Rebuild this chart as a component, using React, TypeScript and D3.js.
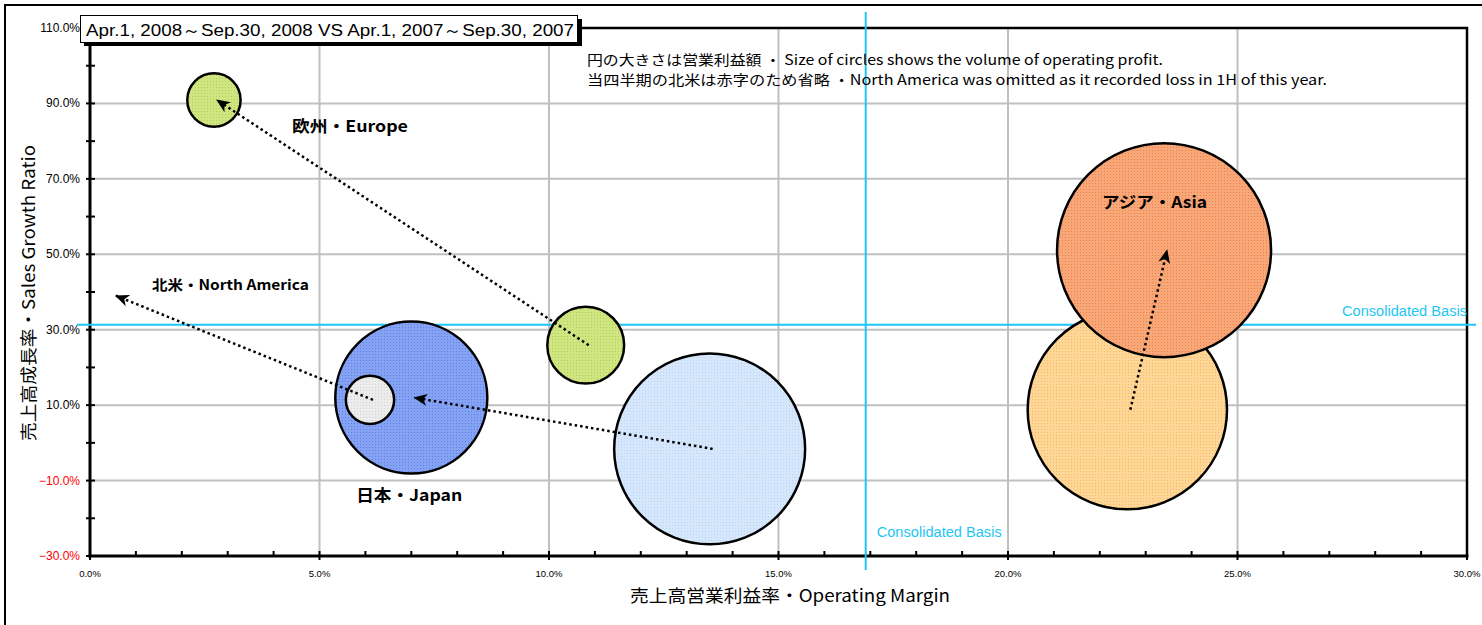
"use client"
import React, { useEffect, useRef } from "react";

//third-party
import * as d3 from "d3";

// Data (operating margin %, sales growth %, operating profit used for bubble size)
const regions = ["日本・Japan", "北米・North America", "欧州・Europe", "アジア・Asia"];
const margin2007 = [13.5, 6.1, 10.8, 22.6];
const growth2007 = [-1.6, 11.4, 25.9, 8.8];
const profit2007 = [500, 32, 81, 545];
const margin2008 = [7.0, 0.5, 2.7, 23.4];
const growth2008 = [12.0, 39.0, 90.9, 51.1];
const profit2008: (number | null)[] = [317, null, 39, 628];

const consolidatedMargin = 16.9;
const consolidatedGrowth = 31.3;

const yMajorTicks = [-30, -10, 10, 30, 50, 70, 90, 110];
const yMinorTicks = [-20, 0, 20, 40, 60, 80, 100];
const xMajorTicks = [0, 5, 10, 15, 20, 25, 30];

// label anchors (data units)
const labelMargin = [5.8, 1.35, 4.4, 22.05];
const labelGrowth = [-15.4, 40.5, 82.4, 62.3];

const titleText = "Apr.1, 2008～Sep.30, 2008 VS Apr.1, 2007～Sep.30, 2007";
const noteLines = [
  "円の大きさは営業利益額 ・ Size of circles shows the volume of operating profit.",
  "当四半期の北米は赤字のため省略 ・North America was omitted as it recorded loss in 1H of this year.",
];

// dithered fills: [base, dot]
const fill2007 = [
  ["#d6e6fb", "#b8d4f8"],
  ["#ececec", "#d4d4d4"],
  ["#d0e682", "#b4d050"],
  ["#fdd698", "#f8bc60"],
];
const fill2008 = [
  ["#86a2f2", "#5c80ec"],
  ["#ececec", "#d4d4d4"],
  ["#d0e682", "#b4d050"],
  ["#f8a878", "#f08048"],
];

const JP = "'Noto Sans CJK JP', 'Noto Sans', sans-serif";
const NARROW = "'Liberation Sans Narrow', 'Liberation Sans', Arial, sans-serif";

const App = () => {
  const ref = useRef<SVGSVGElement | null>(null);
  const width = 1482;
  const height = 625;

  useEffect(() => {
    const svg = d3.select(ref.current);
    svg.selectAll("*").remove();

    const left = 90, right = 1467, top = 28, bottom = 556;
    const x = d3.scaleLinear().domain([0, 30]).range([left, right]);
    const y = d3.scaleLinear().domain([-30, 110]).range([bottom, top]);
    const r = d3.scaleSqrt().domain([0, 628]).range([0, 107]);

    const defs = svg.append("defs");
    const makePattern = (id: string, c: string[]) => {
      const p = defs
        .append("pattern")
        .attr("id", id)
        .attr("width", 3)
        .attr("height", 3)
        .attr("patternUnits", "userSpaceOnUse");
      p.append("rect").attr("width", 3).attr("height", 3).attr("fill", c[0]);
      p.append("rect")
        .attr("width", 1)
        .attr("height", 1)
        .attr("fill", c[1])
        .attr("shape-rendering", "crispEdges");
    };
    fill2007.forEach((c, i) => makePattern(`p07-${i}`, c));
    fill2008.forEach((c, i) => makePattern(`p08-${i}`, c));

    defs
      .append("marker")
      .attr("id", "arrowHead")
      .attr("markerUnits", "userSpaceOnUse")
      .attr("markerWidth", 16)
      .attr("markerHeight", 12)
      .attr("refX", 13)
      .attr("refY", 6)
      .attr("orient", "auto")
      .append("path")
      .attr("d", "M0,0 L14,6 L0,12 L4,6 Z")
      .attr("fill", "#000");

    // white background + outer chart border
    svg.append("rect").attr("width", width).attr("height", height).attr("fill", "#fff");
    svg
      .append("rect")
      .attr("x", 5)
      .attr("y", 5)
      .attr("width", width + 20)
      .attr("height", height + 20)
      .attr("fill", "none")
      .attr("stroke", "#000")
      .attr("stroke-width", 2);

    // gridlines
    svg
      .append("g")
      .selectAll("line")
      .data(yMajorTicks.filter((d) => d > -30 && d < 110))
      .enter()
      .append("line")
      .attr("x1", left)
      .attr("x2", right)
      .attr("y1", (d) => y(d))
      .attr("y2", (d) => y(d))
      .attr("stroke", "#c0c0c0")
      .attr("stroke-width", 2);
    svg
      .append("g")
      .selectAll("line")
      .data(xMajorTicks.filter((d) => d > 0 && d < 30))
      .enter()
      .append("line")
      .attr("x1", (d) => x(d))
      .attr("x2", (d) => x(d))
      .attr("y1", top)
      .attr("y2", bottom)
      .attr("stroke", "#c0c0c0")
      .attr("stroke-width", 2);

    // plot border (top / right)
    svg
      .append("path")
      .attr("d", `M${left},${top} L${right},${top} L${right},${bottom}`)
      .attr("fill", "none")
      .attr("stroke", "#000")
      .attr("stroke-width", 2.5);

    // axes
    svg
      .append("line")
      .attr("x1", left)
      .attr("x2", left)
      .attr("y1", top)
      .attr("y2", bottom + 1.5)
      .attr("stroke", "#000")
      .attr("stroke-width", 3);
    svg
      .append("line")
      .attr("x1", left - 1.5)
      .attr("x2", right + 1.5)
      .attr("y1", bottom)
      .attr("y2", bottom)
      .attr("stroke", "#000")
      .attr("stroke-width", 3);

    // y ticks
    svg
      .append("g")
      .selectAll("line")
      .data([...yMajorTicks, ...yMinorTicks])
      .enter()
      .append("line")
      .attr("x1", left - 4)
      .attr("x2", left + 5)
      .attr("y1", (d) => y(d))
      .attr("y2", (d) => y(d))
      .attr("stroke", "#000")
      .attr("stroke-width", 2);
    // x ticks (major every 5, minor every 1)
    svg
      .append("g")
      .selectAll("line")
      .data(d3.range(0, 31, 1))
      .enter()
      .append("line")
      .attr("x1", (d) => x(d))
      .attr("x2", (d) => x(d))
      .attr("y1", bottom - 5)
      .attr("y2", (d) => (d % 5 === 0 ? bottom + 4 : bottom))
      .attr("stroke", "#000")
      .attr("stroke-width", 2);

    // y tick labels
    svg
      .append("g")
      .selectAll("text")
      .data(yMajorTicks)
      .enter()
      .append("text")
      .attr("x", left - 10)
      .attr("y", (d) => y(d) + 4)
      .attr("text-anchor", "end")
      .attr("font-family", NARROW)
      .attr("font-size", 12)
      .attr("fill", (d) => (d < 0 ? "#ff0000" : "#000"))
      .text((d) => `${d < 0 ? "−" : ""}${Math.abs(d).toFixed(1)}%`);

    // x tick labels
    svg
      .append("g")
      .selectAll("text")
      .data(xMajorTicks)
      .enter()
      .append("text")
      .attr("x", (d) => x(d))
      .attr("y", bottom + 21)
      .attr("text-anchor", "middle")
      .attr("font-family", NARROW)
      .attr("font-size", 9.5)
      .attr("fill", "#000")
      .text((d) => `${d.toFixed(1)}%`);

    // axis titles
    svg
      .append("text")
      .attr("x", 790)
      .attr("y", 602)
      .attr("text-anchor", "middle")
      .attr("font-family", JP)
      .attr("font-size", 17)
      .attr("textLength", 320)
      .attr("lengthAdjust", "spacingAndGlyphs")
      .text("売上高営業利益率・Operating Margin");
    svg
      .append("text")
      .attr("transform", "rotate(-90)")
      .attr("x", -293)
      .attr("y", 35)
      .attr("text-anchor", "middle")
      .attr("font-family", JP)
      .attr("font-size", 17)
      .attr("textLength", 296)
      .attr("lengthAdjust", "spacingAndGlyphs")
      .text("売上高成長率・Sales Growth Ratio");

    // consolidated basis lines
    const cyan = "#1ec6f2";
    svg
      .append("line")
      .attr("x1", x(consolidatedMargin))
      .attr("x2", x(consolidatedMargin))
      .attr("y1", 12)
      .attr("y2", bottom + 14)
      .attr("stroke", cyan)
      .attr("stroke-width", 2);
    svg
      .append("line")
      .attr("x1", left - 13)
      .attr("x2", right + 9)
      .attr("y1", y(consolidatedGrowth))
      .attr("y2", y(consolidatedGrowth))
      .attr("stroke", cyan)
      .attr("stroke-width", 2);
    svg
      .append("text")
      .attr("x", 1342)
      .attr("y", y(consolidatedGrowth) - 9)
      .attr("font-family", NARROW)
      .attr("font-size", 14)
      .attr("fill", cyan)
      .attr("textLength", 125)
      .attr("lengthAdjust", "spacingAndGlyphs")
      .text("Consolidated  Basis");
    svg
      .append("text")
      .attr("x", x(consolidatedMargin) + 11)
      .attr("y", 537)
      .attr("font-family", NARROW)
      .attr("font-size", 14)
      .attr("fill", cyan)
      .attr("textLength", 125)
      .attr("lengthAdjust", "spacingAndGlyphs")
      .text("Consolidated  Basis");

    // bubbles: each region 2007 then 2008
    const bubbles = svg.append("g");
    regions.forEach((_, i) => {
      bubbles
        .append("circle")
        .attr("cx", x(margin2007[i]))
        .attr("cy", y(growth2007[i]))
        .attr("r", r(profit2007[i]))
        .attr("fill", `url(#p07-${i})`)
        .attr("stroke", "#000")
        .attr("stroke-width", 2.5);
      const p = profit2008[i];
      if (p !== null) {
        bubbles
          .append("circle")
          .attr("cx", x(margin2008[i]))
          .attr("cy", y(growth2008[i]))
          .attr("r", r(p))
          .attr("fill", `url(#p08-${i})`)
          .attr("stroke", "#000")
          .attr("stroke-width", 2.5);
      }
    });

    // movement arrows 2007 -> 2008
    svg
      .append("g")
      .selectAll("line")
      .data(regions.map((_, i) => i))
      .enter()
      .append("line")
      .attr("x1", (i) => x(margin2007[i]) + 3)
      .attr("y1", (i) => y(growth2007[i]))
      .attr("x2", (i) => x(margin2008[i]) + 3)
      .attr("y2", (i) => y(growth2008[i]))
      .attr("stroke", "#000")
      .attr("stroke-width", 2.5)
      .attr("stroke-dasharray", "2.5 3")
      .attr("marker-end", "url(#arrowHead)");

    // region labels
    svg
      .append("g")
      .selectAll("text")
      .data(regions.map((_, i) => i))
      .enter()
      .append("text")
      .attr("x", (i) => x(labelMargin[i]))
      .attr("y", (i) => y(labelGrowth[i]))
      .attr("font-family", JP)
      .attr("font-weight", "bold")
      .attr("font-size", (i) => (i === 1 ? 14 : 16))
      .attr("textLength", (i) => [106, 157, 116, 105][i])
      .attr("lengthAdjust", "spacingAndGlyphs")
      .attr("fill", "#000")
      .text((i) => regions[i]);

    // note text
    noteLines.forEach((t, i) => {
      svg
        .append("text")
        .attr("x", 587)
        .attr("y", 65 + i * 20)
        .attr("font-family", JP)
        .attr("font-size", 14)
        .attr("textLength", i === 0 ? 576 : 740)
        .attr("lengthAdjust", "spacingAndGlyphs")
        .attr("fill", "#000")
        .text(t);
    });

    // title box with shadow
    svg
      .append("rect")
      .attr("x", 84)
      .attr("y", 19)
      .attr("width", 498)
      .attr("height", 27)
      .attr("fill", "#000");
    svg
      .append("rect")
      .attr("x", 80.5)
      .attr("y", 15.5)
      .attr("width", 497)
      .attr("height", 27)
      .attr("fill", "#fff")
      .attr("stroke", "#000")
      .attr("stroke-width", 1);
    svg
      .append("text")
      .attr("x", 86)
      .attr("y", 36)
      .attr("font-family", "'Liberation Sans', Arial, sans-serif")
      .attr("font-size", 16)
      .attr("textLength", 488)
      .attr("lengthAdjust", "spacingAndGlyphs")
      .attr("fill", "#000")
      .text(titleText);
  }, []);

  return (
    <div style={{ position: "fixed", left: 0, top: 0, width, height, background: "#fff" }}>
      <svg ref={ref} width={width} height={height} style={{ display: "block" }} />
    </div>
  );
};

export default App;
